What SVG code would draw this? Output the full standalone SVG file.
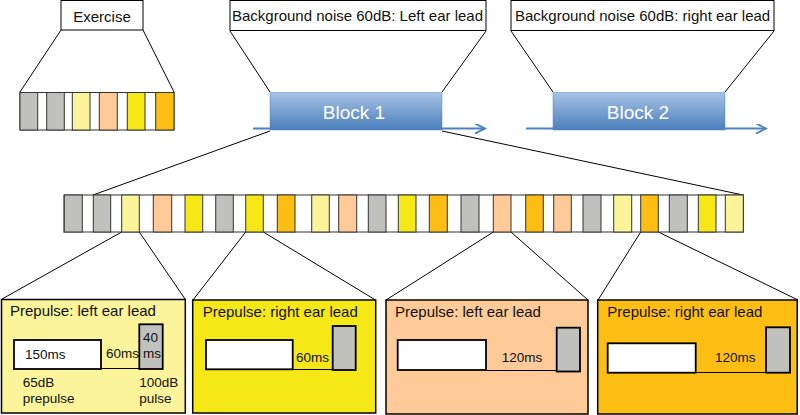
<svg xmlns="http://www.w3.org/2000/svg" width="800" height="415" viewBox="0 0 800 415">
<defs>
<linearGradient id="blk" x1="0" y1="0" x2="0" y2="1">
<stop offset="0" stop-color="#a7c2e5"/>
<stop offset="1" stop-color="#4a7ebb"/>
</linearGradient>
<marker id="arr" markerWidth="12" markerHeight="12" refX="10" refY="5" orient="auto" markerUnits="userSpaceOnUse">
<path d="M0,0 L10,5 L0,10" fill="none" stroke="#4f81bd" stroke-width="2"/>
</marker>
</defs>
<style>
text{font-family:"Liberation Sans",Arial,sans-serif;fill:#111}
.t15{font-size:15px}
.t13{font-size:13.5px}
.lbl{fill:#fff;stroke:#000;stroke-width:1}
.c{stroke:#222;stroke-width:1}
.g{fill:#c0c1bc}
.ly{fill:#fbf49b}
.pe{fill:#fdca98}
.ye{fill:#f5e816}
.or{fill:#fdbe14}
.cell{stroke:#333;stroke-width:1}
.conn{stroke:#000;stroke-width:1;fill:none}
.blk{fill:url(#blk);stroke:#5a88c0;stroke-width:0.5}
.bt{font-size:19px;fill:#fff}
.box{stroke:#000;stroke-width:1.5}
.wr{fill:#fff;stroke:#000;stroke-width:1.8}
.pr{fill:#c0c1bc;stroke:#000;stroke-width:1.8}
.arrow{stroke:#4f81bd;stroke-width:2;fill:none}
</style>
<g id="connectors">
<line class="conn" x1="61" y1="30" x2="20" y2="92"/>
<line class="conn" x1="143" y1="30" x2="174" y2="92"/>
<line class="conn" x1="230" y1="31" x2="270" y2="92"/>
<line class="conn" x1="486" y1="31" x2="442" y2="92"/>
<line class="conn" x1="511" y1="31" x2="553" y2="92"/>
<line class="conn" x1="774" y1="31" x2="725" y2="92"/>
<line class="conn" x1="270" y1="131" x2="93" y2="195"/>
<line class="conn" x1="442" y1="131" x2="743" y2="195"/>
<line class="conn" x1="121.7" y1="232" x2="2" y2="299"/>
<line class="conn" x1="139.3" y1="232" x2="185" y2="299"/>
<line class="conn" x1="245.7" y1="232" x2="193" y2="300"/>
<line class="conn" x1="263.3" y1="232" x2="375.5" y2="300"/>
<line class="conn" x1="493.3" y1="232" x2="386" y2="300"/>
<line class="conn" x1="511" y1="232" x2="588" y2="300"/>
<line class="conn" x1="640.7" y1="232" x2="598" y2="300"/>
<line class="conn" x1="658.3" y1="232" x2="798" y2="300"/>
<line class="arrow" x1="253" y1="128.5" x2="485" y2="128.5" marker-end="url(#arr)"/>
<line class="arrow" x1="526" y1="128.5" x2="766" y2="128.5" marker-end="url(#arr)"/>
</g>
<g id="exercise">
<rect class="lbl" x="61" y="0.5" width="82" height="29.5"/>
<text class="t15" x="102" y="22" text-anchor="middle">Exercise</text>
</g>
<g id="exercise-strip">
<rect x="20" y="92.5" width="154" height="37.5" fill="#fff" stroke="#333"/>
<rect class="cell g" x="20" y="92.5" width="17.7" height="37.5"/>
<rect class="cell g" x="46.7" y="92.5" width="17.6" height="37.5"/>
<rect class="cell ly" x="72.3" y="92.5" width="17.7" height="37.5"/>
<rect class="cell pe" x="99.3" y="92.5" width="18" height="37.5"/>
<rect class="cell ye" x="127.3" y="92.5" width="17.7" height="37.5"/>
<rect class="cell or" x="155.7" y="92.5" width="18.3" height="37.5"/>
</g>
<g id="bg1">
<rect class="lbl" x="230" y="0.5" width="256" height="30"/>
<text class="t15" x="232" y="21">Background noise 60dB: Left ear lead</text>
</g>
<g id="bg2">
<rect class="lbl" x="511" y="0.5" width="263" height="30"/>
<text class="t15" x="515" y="21">Background noise 60dB: right ear lead</text>
</g>
<g id="block1">
<rect class="blk" x="270" y="92.5" width="172" height="37.5"/>
<text class="bt" x="354" y="119" text-anchor="middle">Block 1</text>
</g>
<g id="block2">
<rect class="blk" x="553" y="92.5" width="172" height="37.5"/>
<text class="bt" x="638" y="119" text-anchor="middle">Block 2</text>
</g>
<g id="trial-strip">
<rect x="64" y="195" width="679.3" height="37" fill="#fff" stroke="#333"/>
<rect class="cell g" x="64.3" y="195" width="18" height="37"/>
<rect class="cell g" x="93.3" y="195" width="17.4" height="37"/>
<rect class="cell ly" x="121.7" y="195" width="17.6" height="37"/>
<rect class="cell pe" x="153.3" y="195" width="18.4" height="37"/>
<rect class="cell ye" x="185" y="195" width="17.7" height="37"/>
<rect class="cell g" x="215.7" y="195" width="17.6" height="37"/>
<rect class="cell ye" x="245.7" y="195" width="17.6" height="37"/>
<rect class="cell or" x="277.3" y="195" width="17.7" height="37"/>
<rect class="cell ly" x="311.7" y="195" width="17.6" height="37"/>
<rect class="cell pe" x="338.7" y="195" width="18" height="37"/>
<rect class="cell g" x="368.3" y="195" width="17.7" height="37"/>
<rect class="cell ye" x="398.3" y="195" width="17.7" height="37"/>
<rect class="cell or" x="429.3" y="195" width="18" height="37"/>
<rect class="cell g" x="461" y="195" width="18" height="37"/>
<rect class="cell pe" x="493.3" y="195" width="17.7" height="37"/>
<rect class="cell or" x="525.7" y="195" width="17.6" height="37"/>
<rect class="cell pe" x="553.7" y="195" width="17.6" height="37"/>
<rect class="cell g" x="583" y="195" width="18" height="37"/>
<rect class="cell ly" x="613.7" y="195" width="18" height="37"/>
<rect class="cell or" x="640.7" y="195" width="17.6" height="37"/>
<rect class="cell g" x="669.3" y="195" width="18" height="37"/>
<rect class="cell ye" x="698.3" y="195" width="17.7" height="37"/>
<rect class="cell ly" x="725.3" y="195" width="18" height="37"/>
</g>
<g id="prepulse-left-60">
<rect class="box ly" x="1.5" y="299.5" width="183.8" height="113.5"/>
<text class="t15" x="10" y="316">Prepulse: left ear lead</text>
<line class="conn" x1="101" y1="368.5" x2="139.3" y2="368.5" stroke-width="1.5"/>
<rect class="wr" x="14" y="340" width="87" height="29"/>
<rect class="pr" x="139.3" y="324.3" width="23.4" height="44.7"/>
<text class="t13" x="25" y="358.5">150ms</text>
<text class="t13" x="106" y="358">60ms</text>
<text class="t13" x="143" y="341.7">40</text>
<text class="t13" x="143" y="358">ms</text>
<text class="t13" x="22.7" y="386.7">65dB</text>
<text class="t13" x="22.7" y="403.3">prepulse</text>
<text class="t13" x="139.3" y="386.7">100dB</text>
<text class="t13" x="139.3" y="403.3">pulse</text>
</g>
<g id="prepulse-right-60">
<rect class="box ye" x="192.7" y="300" width="183" height="113"/>
<text class="t15" x="202.7" y="316.7">Prepulse: right ear lead</text>
<line class="conn" x1="292.7" y1="369.5" x2="332.7" y2="369.5" stroke-width="1.5"/>
<rect class="wr" x="206" y="340" width="86.7" height="29.3"/>
<rect class="pr" x="332.7" y="326" width="23" height="44"/>
<text class="t13" x="296" y="361.7">60ms</text>
</g>
<g id="prepulse-left-120">
<rect class="box pe" x="386" y="300" width="202" height="114"/>
<text class="t15" x="395" y="316.7">Prepulse: left ear lead</text>
<line class="conn" x1="486" y1="370.5" x2="556.7" y2="370.5" stroke-width="1.5"/>
<rect class="wr" x="397.7" y="340" width="88.3" height="30"/>
<rect class="pr" x="556.7" y="327.7" width="23.3" height="43.8"/>
<text class="t13" x="501.7" y="361.7">120ms</text>
</g>
<g id="prepulse-right-120">
<rect class="box or" x="597.7" y="300" width="199.5" height="114"/>
<text class="t15" x="607.3" y="316.7">Prepulse: right ear lead</text>
<line class="conn" x1="695.7" y1="372.5" x2="766" y2="372.5" stroke-width="1.5"/>
<rect class="wr" x="607.7" y="343.3" width="88" height="29.4"/>
<rect class="pr" x="766" y="327.3" width="24" height="45.4"/>
<text class="t13" x="715" y="361.7">120ms</text>
</g>
</svg>
